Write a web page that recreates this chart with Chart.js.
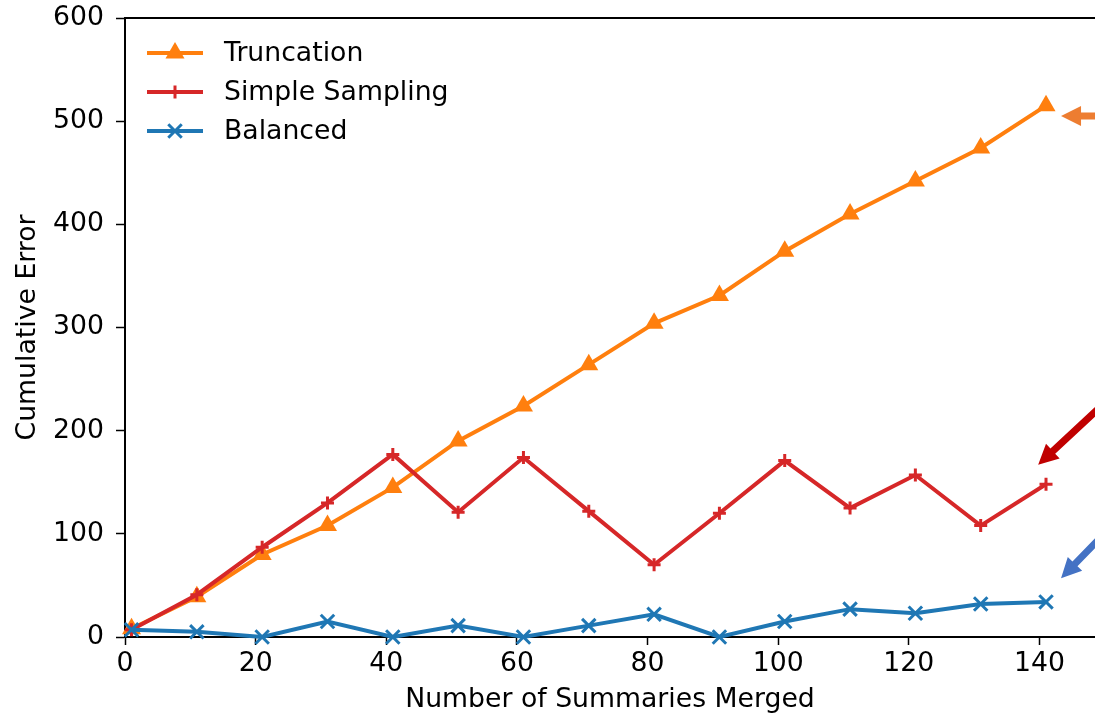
<!DOCTYPE html>
<html lang="en">
<head>
<meta charset="UTF-8">
<title>Cumulative Error vs Summaries Merged</title>
<script src="https://cdn.jsdelivr.net/npm/chart.js"></script>
<style>
    body {
        margin: 0;
        background: #fff;
        overflow: hidden;
    }
    #chart-container {
        width: 1095px;
        height: 718px;
    }
</style>
</head>
<body>
<div id="chart-container">
    <canvas id="errorChart" width="1095" height="718"></canvas>
</div>
<script>
    // values
    const summariesMerged = [1, 11, 21, 31, 41, 51, 61, 71, 81, 91, 101, 111, 121, 131, 141];
    const truncation      = [8, 39, 80, 108, 145, 190, 224, 264, 304, 331, 374, 410, 442, 474, 515];
    const simpleSampling  = [7, 41, 87, 130, 177, 121, 174, 122, 70, 120, 171, 125, 157, 108, 148];
    const balanced        = [7, 5, 0, 15, 0, 11, 0, 11, 22, 0, 15, 27, 23, 32, 34];
    const xTicks = [0, 20, 40, 60, 80, 100, 120, 140];
    const yTicks = [0, 100, 200, 300, 400, 500, 600];

    // pointer arrows at the right edge (tip in data units, direction in px)
    const arrows = [
        { x: 143.3, y: 505, dx: 1, dy: 0, len: 50, color: '#ed7d31' },
        { x: 139.8, y: 167, dx: 57, dy: -53, len: 110, color: '#c00000' },
        { x: 143.3, y: 57, dx: 34, dy: -35, len: 70, color: '#4472c4' }
    ];

    const FONT = 'DejaVu Sans';
    const FONT_SIZE = 26.7;

    function points(ys) {
        return summariesMerged.map((x, i) => ({ x: x, y: ys[i] }));
    }

    // top spine
    const framePlugin = {
        id: 'frame',
        afterDraw(chart) {
            const { ctx, chartArea } = chart;
            ctx.save();
            ctx.strokeStyle = '#000';
            ctx.lineWidth = 2;
            ctx.beginPath();
            ctx.moveTo(chartArea.left - 1, chartArea.top);
            ctx.lineTo(chartArea.right + 2, chartArea.top);
            ctx.stroke();
            ctx.restore();
        }
    };

    // legend drawn inside the plot, top-left, like matplotlib
    const legendPlugin = {
        id: 'innerLegend',
        afterDatasetsDraw(chart) {
            const { ctx, chartArea } = chart;
            ctx.save();
            chart.data.datasets.forEach((ds, i) => {
                const y = chartArea.top + 35 + i * 39;
                const x0 = chartArea.left + 22;
                const x1 = chartArea.left + 78;
                ctx.strokeStyle = ds.borderColor;
                ctx.fillStyle = ds.borderColor;
                ctx.lineWidth = ds.borderWidth;
                ctx.beginPath();
                ctx.moveTo(x0, y);
                ctx.lineTo(x1, y);
                ctx.stroke();
                ctx.lineWidth = ds.pointBorderWidth;
                Chart.helpers.drawPoint(ctx, {
                    pointStyle: ds.pointStyle,
                    radius: ds.pointRadius,
                    rotation: 0,
                    borderWidth: ds.pointBorderWidth
                }, (x0 + x1) / 2, y);
                ctx.fillStyle = '#000';
                ctx.font = FONT_SIZE + 'px "' + FONT + '"';
                ctx.textBaseline = 'middle';
                ctx.fillText(ds.label, chartArea.left + 99, y + 1);
            });
            ctx.restore();
        }
    };

    const arrowPlugin = {
        id: 'arrows',
        afterDraw(chart) {
            const { ctx } = chart;
            const xs = chart.scales.x, ys = chart.scales.y;
            ctx.save();
            arrows.forEach(a => {
                const tx = xs.getPixelForValue(a.x);
                const ty = ys.getPixelForValue(a.y);
                const n = Math.hypot(a.dx, a.dy);
                const ux = a.dx / n, uy = a.dy / n;
                const px = -uy, py = ux;
                const head = 20, hw = 10, sw = 3.5;
                const bx = tx + ux * head, by = ty + uy * head;
                const ex = tx + ux * a.len, ey = ty + uy * a.len;
                ctx.fillStyle = a.color;
                ctx.beginPath();
                ctx.moveTo(tx, ty);
                ctx.lineTo(bx + px * hw, by + py * hw);
                ctx.lineTo(bx + px * sw, by + py * sw);
                ctx.lineTo(ex + px * sw, ey + py * sw);
                ctx.lineTo(ex - px * sw, ey - py * sw);
                ctx.lineTo(bx - px * sw, by - py * sw);
                ctx.lineTo(bx - px * hw, by - py * hw);
                ctx.closePath();
                ctx.fill();
            });
            ctx.restore();
        }
    };

    const ctx = document.getElementById('errorChart').getContext('2d');
    const errorChart = new Chart(ctx, {
        type: 'line',
        data: {
            datasets: [
                {
                    label: 'Truncation',
                    data: points(truncation),
                    borderColor: '#ff7f0e',
                    backgroundColor: '#ff7f0e',
                    borderWidth: 4,
                    pointStyle: 'triangle',
                    pointRadius: 11,
                    pointBorderWidth: 0,
                    order: 3
                },
                {
                    label: 'Simple Sampling',
                    data: points(simpleSampling),
                    borderColor: '#d62728',
                    backgroundColor: '#d62728',
                    borderWidth: 4,
                    pointStyle: 'cross',
                    pointRadius: 6.5,
                    pointBorderWidth: 3,
                    order: 2
                },
                {
                    label: 'Balanced',
                    data: points(balanced),
                    borderColor: '#1f77b4',
                    backgroundColor: '#1f77b4',
                    borderWidth: 4,
                    pointStyle: 'crossRot',
                    pointRadius: 9.5,
                    pointBorderWidth: 3,
                    order: 1
                }
            ]
        },
        options: {
            responsive: false,
            animation: false,
            clip: false,
            layout: {
                autoPadding: false,
                padding: { left: 0, top: 18, right: 0, bottom: 0 }
            },
            plugins: {
                legend: { display: false },
                tooltip: { enabled: false }
            },
            scales: {
                x: {
                    type: 'linear',
                    min: 0,
                    max: 148.5,
                    afterBuildTicks: (scale) => {
                        scale.ticks = xTicks.map(v => ({ value: v }));
                    },
                    afterFit: (scale) => {
                        // fixed box so the plot matches the reference; runs off the right edge
                        scale.height = 81;
                        scale.paddingLeft = 0;
                        scale.paddingRight = 0;
                    },
                    grid: {
                        drawOnChartArea: false,
                        drawTicks: true,
                        tickLength: 8,
                        tickColor: '#000',
                        tickWidth: 1.5
                    },
                    border: { display: true, color: '#000', width: 2 },
                    ticks: {
                        color: '#000',
                        padding: 3,
                        maxRotation: 0,
                        font: { family: FONT, size: FONT_SIZE }
                    },
                    title: {
                        display: true,
                        text: 'Number of Summaries Merged',
                        color: '#000',
                        padding: { top: 0, bottom: 2 },
                        font: { family: FONT, size: FONT_SIZE }
                    }
                },
                y: {
                    min: 0,
                    max: 600,
                    afterBuildTicks: (scale) => {
                        scale.ticks = yTicks.map(v => ({ value: v }));
                    },
                    afterFit: (scale) => {
                        scale.width = 125;
                        scale.paddingTop = 0;
                        scale.paddingBottom = 0;
                    },
                    grid: {
                        drawOnChartArea: false,
                        drawTicks: true,
                        tickLength: 9,
                        tickColor: '#000',
                        tickWidth: 1.5
                    },
                    border: { display: true, color: '#000', width: 2 },
                    ticks: {
                        color: '#000',
                        padding: 12,
                        font: { family: FONT, size: FONT_SIZE }
                    },
                    title: {
                        display: true,
                        text: 'Cumulative Error',
                        color: '#000',
                        padding: { top: 12.5, bottom: 0 },
                        font: { family: FONT, size: FONT_SIZE }
                    }
                }
            }
        },
        plugins: [framePlugin, legendPlugin, arrowPlugin]
    });
</script>
</body>
</html>
